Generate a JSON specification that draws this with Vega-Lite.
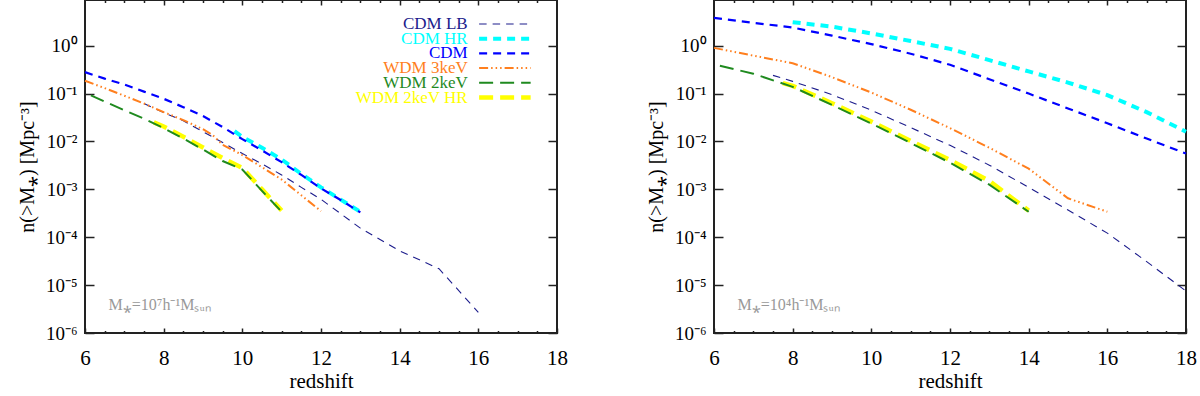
{
  "$schema": "https://vega.github.io/schema/vega-lite/v6.json",
  "padding": {"left": 16, "top": -2, "right": 0, "bottom": 0},
  "background": "white",
  "spacing": 76,
  "config": {
    "font": "Liberation Serif",
    "view": {"stroke": "#222222", "strokeWidth": 2},
    "axis": {"grid": false, "domain": false, "tickColor": "#222222", "tickWidth": 1.5, "labelFont": "Liberation Serif", "titleFont": "Liberation Serif", "labelColor": "#000000", "titleColor": "#000000", "titleFontWeight": "normal", "labelFlush": false, "labelOverlap": false}
  },
  "datasets": {
    "m7": [
      {"series": "CDM LB", "z": 7.5, "n": 0.062}, {"series": "CDM LB", "z": 8, "n": 0.04}, {"series": "CDM LB", "z": 8.5, "n": 0.027}, {"series": "CDM LB", "z": 9, "n": 0.016}, {"series": "CDM LB", "z": 9.5, "n": 0.0095}, {"series": "CDM LB", "z": 10, "n": 0.0056}, {"series": "CDM LB", "z": 10.5, "n": 0.0034}, {"series": "CDM LB", "z": 11, "n": 0.002}, {"series": "CDM LB", "z": 11.5, "n": 0.0011}, {"series": "CDM LB", "z": 12, "n": 0.00062}, {"series": "CDM LB", "z": 12.5, "n": 0.00031}, {"series": "CDM LB", "z": 13, "n": 0.000155}, {"series": "CDM LB", "z": 14, "n": 0.000052}, {"series": "CDM LB", "z": 15, "n": 0.000022}, {"series": "CDM LB", "z": 16, "n": 0.0000027},
      {"series": "CDM HR", "z": 9.8, "n": 0.0165}, {"series": "CDM HR", "z": 10, "n": 0.0125}, {"series": "CDM HR", "z": 10.5, "n": 0.0074}, {"series": "CDM HR", "z": 11, "n": 0.0042}, {"series": "CDM HR", "z": 11.5, "n": 0.0021}, {"series": "CDM HR", "z": 12, "n": 0.0011}, {"series": "CDM HR", "z": 12.5, "n": 0.00061}, {"series": "CDM HR", "z": 13, "n": 0.00034},
      {"series": "CDM", "z": 6, "n": 0.28}, {"series": "CDM", "z": 6.5, "n": 0.205}, {"series": "CDM", "z": 7, "n": 0.155}, {"series": "CDM", "z": 7.5, "n": 0.11}, {"series": "CDM", "z": 8, "n": 0.078}, {"series": "CDM", "z": 8.5, "n": 0.052}, {"series": "CDM", "z": 9, "n": 0.034}, {"series": "CDM", "z": 9.5, "n": 0.02}, {"series": "CDM", "z": 10, "n": 0.0112}, {"series": "CDM", "z": 10.5, "n": 0.0065}, {"series": "CDM", "z": 11, "n": 0.0037}, {"series": "CDM", "z": 11.5, "n": 0.002}, {"series": "CDM", "z": 12, "n": 0.00105}, {"series": "CDM", "z": 12.5, "n": 0.0006}, {"series": "CDM", "z": 13, "n": 0.00033},
      {"series": "WDM 3keV", "z": 6, "n": 0.185}, {"series": "WDM 3keV", "z": 6.5, "n": 0.13}, {"series": "WDM 3keV", "z": 7, "n": 0.09}, {"series": "WDM 3keV", "z": 7.5, "n": 0.062}, {"series": "WDM 3keV", "z": 8, "n": 0.041}, {"series": "WDM 3keV", "z": 8.5, "n": 0.028}, {"series": "WDM 3keV", "z": 9, "n": 0.018}, {"series": "WDM 3keV", "z": 9.25, "n": 0.0135}, {"series": "WDM 3keV", "z": 9.5, "n": 0.0085}, {"series": "WDM 3keV", "z": 10, "n": 0.0052}, {"series": "WDM 3keV", "z": 10.5, "n": 0.0029}, {"series": "WDM 3keV", "z": 11, "n": 0.0016}, {"series": "WDM 3keV", "z": 11.5, "n": 0.00075}, {"series": "WDM 3keV", "z": 12, "n": 0.00035},
      {"series": "WDM 2keV", "z": 6.15, "n": 0.092}, {"series": "WDM 2keV", "z": 6.5, "n": 0.068}, {"series": "WDM 2keV", "z": 7, "n": 0.045}, {"series": "WDM 2keV", "z": 7.5, "n": 0.03}, {"series": "WDM 2keV", "z": 8, "n": 0.019}, {"series": "WDM 2keV", "z": 8.5, "n": 0.0115}, {"series": "WDM 2keV", "z": 9, "n": 0.0068}, {"series": "WDM 2keV", "z": 9.5, "n": 0.0039}, {"series": "WDM 2keV", "z": 10, "n": 0.0026}, {"series": "WDM 2keV", "z": 10.5, "n": 0.00093}, {"series": "WDM 2keV", "z": 11, "n": 0.00034},
      {"series": "WDM 2keV HR", "z": 7.75, "n": 0.025}, {"series": "WDM 2keV HR", "z": 8, "n": 0.0205}, {"series": "WDM 2keV HR", "z": 8.5, "n": 0.0125}, {"series": "WDM 2keV HR", "z": 9, "n": 0.0075}, {"series": "WDM 2keV HR", "z": 9.5, "n": 0.0045}, {"series": "WDM 2keV HR", "z": 10, "n": 0.0028}, {"series": "WDM 2keV HR", "z": 10.5, "n": 0.001}, {"series": "WDM 2keV HR", "z": 11, "n": 0.00036}
    ],
    "m4": [
      {"series": "CDM LB", "z": 7.5, "n": 0.24}, {"series": "CDM LB", "z": 8, "n": 0.18}, {"series": "CDM LB", "z": 9, "n": 0.095}, {"series": "CDM LB", "z": 10, "n": 0.045}, {"series": "CDM LB", "z": 11, "n": 0.0195}, {"series": "CDM LB", "z": 12, "n": 0.0083}, {"series": "CDM LB", "z": 13, "n": 0.0032}, {"series": "CDM LB", "z": 14, "n": 0.0011}, {"series": "CDM LB", "z": 15, "n": 0.00037}, {"series": "CDM LB", "z": 16, "n": 0.000122}, {"series": "CDM LB", "z": 17, "n": 0.000031}, {"series": "CDM LB", "z": 18, "n": 0.0000075},
      {"series": "CDM HR", "z": 8, "n": 3.1}, {"series": "CDM HR", "z": 9, "n": 2.5}, {"series": "CDM HR", "z": 10, "n": 1.8}, {"series": "CDM HR", "z": 11, "n": 1.25}, {"series": "CDM HR", "z": 12, "n": 0.86}, {"series": "CDM HR", "z": 13, "n": 0.5}, {"series": "CDM HR", "z": 14, "n": 0.29}, {"series": "CDM HR", "z": 15, "n": 0.17}, {"series": "CDM HR", "z": 16, "n": 0.093}, {"series": "CDM HR", "z": 17, "n": 0.041}, {"series": "CDM HR", "z": 18, "n": 0.016},
      {"series": "CDM", "z": 6, "n": 3.8}, {"series": "CDM", "z": 7, "n": 3.0}, {"series": "CDM", "z": 8, "n": 2.4}, {"series": "CDM", "z": 9, "n": 1.62}, {"series": "CDM", "z": 10, "n": 1.08}, {"series": "CDM", "z": 11, "n": 0.68}, {"series": "CDM", "z": 12, "n": 0.4}, {"series": "CDM", "z": 13, "n": 0.2}, {"series": "CDM", "z": 14, "n": 0.1}, {"series": "CDM", "z": 15, "n": 0.049}, {"series": "CDM", "z": 16, "n": 0.024}, {"series": "CDM", "z": 17, "n": 0.0115}, {"series": "CDM", "z": 18, "n": 0.0056},
      {"series": "WDM 3keV", "z": 6, "n": 0.9}, {"series": "WDM 3keV", "z": 7, "n": 0.62}, {"series": "WDM 3keV", "z": 8, "n": 0.43}, {"series": "WDM 3keV", "z": 9, "n": 0.22}, {"series": "WDM 3keV", "z": 10, "n": 0.105}, {"series": "WDM 3keV", "z": 11, "n": 0.046}, {"series": "WDM 3keV", "z": 12, "n": 0.019}, {"series": "WDM 3keV", "z": 13, "n": 0.0074}, {"series": "WDM 3keV", "z": 14, "n": 0.0027}, {"series": "WDM 3keV", "z": 15, "n": 0.00065}, {"series": "WDM 3keV", "z": 16, "n": 0.00034},
      {"series": "WDM 2keV", "z": 6.15, "n": 0.38}, {"series": "WDM 2keV", "z": 7, "n": 0.26}, {"series": "WDM 2keV", "z": 8, "n": 0.138}, {"series": "WDM 2keV", "z": 9, "n": 0.058}, {"series": "WDM 2keV", "z": 10, "n": 0.0237}, {"series": "WDM 2keV", "z": 11, "n": 0.0093}, {"series": "WDM 2keV", "z": 12, "n": 0.0036}, {"series": "WDM 2keV", "z": 13, "n": 0.00125}, {"series": "WDM 2keV", "z": 14, "n": 0.00034},
      {"series": "WDM 2keV HR", "z": 7.75, "n": 0.165}, {"series": "WDM 2keV HR", "z": 8, "n": 0.145}, {"series": "WDM 2keV HR", "z": 9, "n": 0.063}, {"series": "WDM 2keV HR", "z": 10, "n": 0.026}, {"series": "WDM 2keV HR", "z": 11, "n": 0.0103}, {"series": "WDM 2keV HR", "z": 12, "n": 0.0041}, {"series": "WDM 2keV HR", "z": 13, "n": 0.0015}, {"series": "WDM 2keV HR", "z": 14, "n": 0.00036}
    ],
    "legendRows": [
      {"series": "CDM LB"}, {"series": "CDM HR"}, {"series": "CDM"}, {"series": "WDM 3keV"}, {"series": "WDM 2keV"}, {"series": "WDM 2keV HR"}
    ]
  },
  "hconcat": [
    {
      "width": 472, "height": 333,
      "data": {"name": "m7"},
      "resolve": {"scale": {"y": "independent"}, "axis": {"x": "independent", "y": "independent"}},
      "layer": [
        {
          "transform": [{"filter": "datum.series === 'CDM LB'"}],
          "mark": {"type": "line", "strokeWidth": 1.1},
          "encoding": {
            "x": {"field": "z", "type": "quantitative", "scale": {"domain": [6, 18], "nice": false, "zero": false}, "axis": {"orient": "bottom", "values": [6, 8, 10, 12, 14, 16, 18], "format": "d", "tickSize": -5, "labelPadding": 19, "labelFontSize": 21, "title": "redshift", "titleFontSize": 21, "titlePadding": 2}},
            "y": {"field": "n", "type": "quantitative", "scale": {"type": "log", "domain": [0.000001, 9], "nice": false}, "axis": {"orient": "left", "values": [0.000001, 0.00001, 0.0001, 0.001, 0.01, 0.1, 1], "tickSize": -9, "labelPadding": 17, "labelFontSize": 19, "labelExpr": "['10⁻⁶','10⁻⁵','10⁻⁴','10⁻³','10⁻²','10⁻¹','10⁰'][round(log(datum.value)/LN10)+6]", "title": "n(>M⁎)  [Mpc⁻³]", "titleFontSize": 20, "titlePadding": 8}},
            "color": {"field": "series", "type": "nominal", "scale": {"domain": ["CDM LB", "CDM HR", "CDM", "WDM 3keV", "WDM 2keV", "WDM 2keV HR"], "range": ["#1c1c8c", "#00ffff", "#0000ff", "#ff7f1e", "#1f8a1f", "#ffff00"]}, "legend": null},
            "strokeDash": {"field": "series", "type": "nominal", "scale": {"domain": ["CDM LB", "CDM HR", "CDM", "WDM 3keV", "WDM 2keV", "WDM 2keV HR"], "range": [[7.5, 6], [8, 6], [8, 6], [9, 3, 1.5, 3, 1.5, 3, 1.5, 3], [14, 7], [14, 7]]}, "legend": null}
          }
        },
        {
          "transform": [{"filter": "datum.series === 'CDM HR'"}],
          "mark": {"type": "line", "strokeWidth": 4},
          "encoding": {
            "x": {"field": "z", "type": "quantitative", "scale": {"domain": [6, 18], "nice": false, "zero": false}, "axis": {"orient": "bottom", "values": [6.5, 7, 7.5, 8.5, 9, 9.5, 10.5, 11, 11.5, 12.5, 13, 13.5, 14.5, 15, 15.5, 16.5, 17, 17.5], "tickSize": -2.5, "labels": false, "title": null}},
            "y": {"field": "n", "type": "quantitative", "scale": {"type": "log", "domain": [0.000001, 9], "nice": false}, "axis": {"orient": "right", "values": [0.000001, 0.00001, 0.0001, 0.001, 0.01, 0.1, 1], "tickSize": -9, "labels": false, "title": null}},
            "color": {"field": "series", "type": "nominal", "scale": {"domain": ["CDM LB", "CDM HR", "CDM", "WDM 3keV", "WDM 2keV", "WDM 2keV HR"], "range": ["#1c1c8c", "#00ffff", "#0000ff", "#ff7f1e", "#1f8a1f", "#ffff00"]}, "legend": null},
            "strokeDash": {"field": "series", "type": "nominal", "scale": {"domain": ["CDM LB", "CDM HR", "CDM", "WDM 3keV", "WDM 2keV", "WDM 2keV HR"], "range": [[7.5, 6], [8, 6], [8, 6], [9, 3, 1.5, 3, 1.5, 3, 1.5, 3], [14, 7], [14, 7]]}, "legend": null}
          }
        },
        {
          "transform": [{"filter": "datum.series === 'CDM'"}],
          "mark": {"type": "line", "strokeWidth": 2.2},
          "encoding": {
            "x": {"field": "z", "type": "quantitative", "scale": {"domain": [6, 18], "nice": false, "zero": false}, "axis": {"orient": "top", "values": [8, 10, 12, 14, 16], "tickSize": -5, "labels": false, "title": null}},
            "y": {"field": "n", "type": "quantitative", "scale": {"type": "log", "domain": [0.000001, 9], "nice": false}, "axis": null},
            "color": {"field": "series", "type": "nominal", "scale": {"domain": ["CDM LB", "CDM HR", "CDM", "WDM 3keV", "WDM 2keV", "WDM 2keV HR"], "range": ["#1c1c8c", "#00ffff", "#0000ff", "#ff7f1e", "#1f8a1f", "#ffff00"]}, "legend": null},
            "strokeDash": {"field": "series", "type": "nominal", "scale": {"domain": ["CDM LB", "CDM HR", "CDM", "WDM 3keV", "WDM 2keV", "WDM 2keV HR"], "range": [[7.5, 6], [8, 6], [8, 6], [9, 3, 1.5, 3, 1.5, 3, 1.5, 3], [14, 7], [14, 7]]}, "legend": null}
          }
        },
        {
          "transform": [{"filter": "datum.series === 'WDM 3keV'"}],
          "mark": {"type": "line", "strokeWidth": 2},
          "encoding": {
            "x": {"field": "z", "type": "quantitative", "scale": {"domain": [6, 18], "nice": false, "zero": false}, "axis": {"orient": "top", "values": [6.5, 7, 7.5, 8.5, 9, 9.5, 10.5, 11, 11.5, 12.5, 13, 13.5, 14.5, 15, 15.5, 16.5, 17, 17.5], "tickSize": -2.5, "labels": false, "title": null}},
            "y": {"field": "n", "type": "quantitative", "scale": {"type": "log", "domain": [0.000001, 9], "nice": false}, "axis": null},
            "color": {"field": "series", "type": "nominal", "scale": {"domain": ["CDM LB", "CDM HR", "CDM", "WDM 3keV", "WDM 2keV", "WDM 2keV HR"], "range": ["#1c1c8c", "#00ffff", "#0000ff", "#ff7f1e", "#1f8a1f", "#ffff00"]}, "legend": null},
            "strokeDash": {"field": "series", "type": "nominal", "scale": {"domain": ["CDM LB", "CDM HR", "CDM", "WDM 3keV", "WDM 2keV", "WDM 2keV HR"], "range": [[7.5, 6], [8, 6], [8, 6], [9, 3, 1.5, 3, 1.5, 3, 1.5, 3], [14, 7], [14, 7]]}, "legend": null}
          }
        },
        {
          "transform": [{"filter": "datum.series === 'WDM 2keV HR'"}],
          "mark": {"type": "line", "strokeWidth": 4.5},
          "encoding": {
            "x": {"field": "z", "type": "quantitative", "scale": {"domain": [6, 18], "nice": false, "zero": false}, "axis": null},
            "y": {"field": "n", "type": "quantitative", "scale": {"type": "log", "domain": [0.000001, 9], "nice": false}, "axis": null},
            "color": {"field": "series", "type": "nominal", "scale": {"domain": ["CDM LB", "CDM HR", "CDM", "WDM 3keV", "WDM 2keV", "WDM 2keV HR"], "range": ["#1c1c8c", "#00ffff", "#0000ff", "#ff7f1e", "#1f8a1f", "#ffff00"]}, "legend": null},
            "strokeDash": {"field": "series", "type": "nominal", "scale": {"domain": ["CDM LB", "CDM HR", "CDM", "WDM 3keV", "WDM 2keV", "WDM 2keV HR"], "range": [[7.5, 6], [8, 6], [8, 6], [9, 3, 1.5, 3, 1.5, 3, 1.5, 3], [14, 7], [14, 7]]}, "legend": null}
          }
        },
        {
          "transform": [{"filter": "datum.series === 'WDM 2keV'"}],
          "mark": {"type": "line", "strokeWidth": 2},
          "encoding": {
            "x": {"field": "z", "type": "quantitative", "scale": {"domain": [6, 18], "nice": false, "zero": false}, "axis": null},
            "y": {"field": "n", "type": "quantitative", "scale": {"type": "log", "domain": [0.000001, 9], "nice": false}, "axis": null},
            "color": {"field": "series", "type": "nominal", "scale": {"domain": ["CDM LB", "CDM HR", "CDM", "WDM 3keV", "WDM 2keV", "WDM 2keV HR"], "range": ["#1c1c8c", "#00ffff", "#0000ff", "#ff7f1e", "#1f8a1f", "#ffff00"]}, "legend": null},
            "strokeDash": {"field": "series", "type": "nominal", "scale": {"domain": ["CDM LB", "CDM HR", "CDM", "WDM 3keV", "WDM 2keV", "WDM 2keV HR"], "range": [[7.5, 6], [8, 6], [8, 6], [9, 3, 1.5, 3, 1.5, 3, 1.5, 3], [14, 7], [14, 7]]}, "legend": null}
          }
        },
        {
          "data": {"name": "legendRows"},
          "mark": {"type": "text", "align": "right", "baseline": "middle", "fontSize": 17, "font": "Liberation Serif"},
          "encoding": {
            "x": {"datum": 15.73, "type": "quantitative", "scale": {"domain": [6, 18], "nice": false, "zero": false}, "axis": null},
            "y": {"field": "series", "type": "nominal", "scale": {"type": "point", "domain": ["CDM LB", "CDM HR", "CDM", "WDM 3keV", "WDM 2keV", "WDM 2keV HR"], "range": [24, 97.5], "padding": 0}, "axis": null},
            "text": {"field": "series"},
            "color": {"field": "series", "type": "nominal", "scale": {"domain": ["CDM LB", "CDM HR", "CDM", "WDM 3keV", "WDM 2keV", "WDM 2keV HR"], "range": ["#1c1c8c", "#00ffff", "#0000ff", "#ff7f1e", "#1f8a1f", "#ffff00"]}, "legend": null}
          }
        },
        {
          "data": {"name": "legendRows"},
          "mark": {"type": "rule"},
          "encoding": {
            "x": {"datum": 16.02, "type": "quantitative", "scale": {"domain": [6, 18], "nice": false, "zero": false}, "axis": null},
            "x2": {"datum": 17.33},
            "y": {"field": "series", "type": "nominal", "scale": {"type": "point", "domain": ["CDM LB", "CDM HR", "CDM", "WDM 3keV", "WDM 2keV", "WDM 2keV HR"], "range": [24, 97.5], "padding": 0}, "axis": null},
            "color": {"field": "series", "type": "nominal", "scale": {"domain": ["CDM LB", "CDM HR", "CDM", "WDM 3keV", "WDM 2keV", "WDM 2keV HR"], "range": ["#1c1c8c", "#00ffff", "#0000ff", "#ff7f1e", "#1f8a1f", "#ffff00"]}, "legend": null},
            "strokeDash": {"field": "series", "type": "nominal", "scale": {"domain": ["CDM LB", "CDM HR", "CDM", "WDM 3keV", "WDM 2keV", "WDM 2keV HR"], "range": [[7.5, 6], [8, 6], [8, 6], [9, 3, 1.5, 3, 1.5, 3, 1.5, 3], [14, 7], [14, 7]]}, "legend": null},
            "strokeWidth": {"field": "series", "type": "nominal", "scale": {"type": "ordinal", "domain": ["CDM LB", "CDM HR", "CDM", "WDM 3keV", "WDM 2keV", "WDM 2keV HR"], "range": [1.2, 4, 2.2, 2, 2, 4.5]}, "legend": null}
          }
        },
        {
          "data": {"values": [{"label": "M⁎=10⁷h⁻¹Mₛᵤₙ"}]},
          "mark": {"type": "text", "align": "left", "baseline": "alphabetic", "fontSize": 16, "color": "#999999", "font": "Liberation Serif"},
          "encoding": {
            "x": {"datum": 6.6, "type": "quantitative", "scale": {"domain": [6, 18], "nice": false, "zero": false}, "axis": null},
            "y": {"datum": 0.000003, "type": "quantitative", "scale": {"type": "log", "domain": [0.000001, 9], "nice": false}, "axis": null},
            "text": {"field": "label"}
          }
        }
      ]
    },
    {
      "width": 472, "height": 333,
      "data": {"name": "m4"},
      "resolve": {"axis": {"x": "independent", "y": "independent"}},
      "layer": [
        {
          "transform": [{"filter": "datum.series === 'CDM LB'"}],
          "mark": {"type": "line", "strokeWidth": 1.1},
          "encoding": {
            "x": {"field": "z", "type": "quantitative", "scale": {"domain": [6, 18], "nice": false, "zero": false}, "axis": {"orient": "bottom", "values": [6, 8, 10, 12, 14, 16, 18], "format": "d", "tickSize": -5, "labelPadding": 19, "labelFontSize": 21, "title": "redshift", "titleFontSize": 21, "titlePadding": 2}},
            "y": {"field": "n", "type": "quantitative", "scale": {"type": "log", "domain": [0.000001, 9], "nice": false}, "axis": {"orient": "left", "values": [0.000001, 0.00001, 0.0001, 0.001, 0.01, 0.1, 1], "tickSize": -9, "labelPadding": 17, "labelFontSize": 19, "labelExpr": "['10⁻⁶','10⁻⁵','10⁻⁴','10⁻³','10⁻²','10⁻¹','10⁰'][round(log(datum.value)/LN10)+6]", "title": "n(>M⁎)  [Mpc⁻³]", "titleFontSize": 20, "titlePadding": 8}},
            "color": {"field": "series", "type": "nominal", "scale": {"domain": ["CDM LB", "CDM HR", "CDM", "WDM 3keV", "WDM 2keV", "WDM 2keV HR"], "range": ["#1c1c8c", "#00ffff", "#0000ff", "#ff7f1e", "#1f8a1f", "#ffff00"]}, "legend": null},
            "strokeDash": {"field": "series", "type": "nominal", "scale": {"domain": ["CDM LB", "CDM HR", "CDM", "WDM 3keV", "WDM 2keV", "WDM 2keV HR"], "range": [[7.5, 6], [8, 6], [8, 6], [9, 3, 1.5, 3, 1.5, 3, 1.5, 3], [14, 7], [14, 7]]}, "legend": null}
          }
        },
        {
          "transform": [{"filter": "datum.series === 'CDM HR'"}],
          "mark": {"type": "line", "strokeWidth": 4},
          "encoding": {
            "x": {"field": "z", "type": "quantitative", "scale": {"domain": [6, 18], "nice": false, "zero": false}, "axis": {"orient": "bottom", "values": [6.5, 7, 7.5, 8.5, 9, 9.5, 10.5, 11, 11.5, 12.5, 13, 13.5, 14.5, 15, 15.5, 16.5, 17, 17.5], "tickSize": -2.5, "labels": false, "title": null}},
            "y": {"field": "n", "type": "quantitative", "scale": {"type": "log", "domain": [0.000001, 9], "nice": false}, "axis": {"orient": "right", "values": [0.000001, 0.00001, 0.0001, 0.001, 0.01, 0.1, 1], "tickSize": -9, "labels": false, "title": null}},
            "color": {"field": "series", "type": "nominal", "scale": {"domain": ["CDM LB", "CDM HR", "CDM", "WDM 3keV", "WDM 2keV", "WDM 2keV HR"], "range": ["#1c1c8c", "#00ffff", "#0000ff", "#ff7f1e", "#1f8a1f", "#ffff00"]}, "legend": null},
            "strokeDash": {"field": "series", "type": "nominal", "scale": {"domain": ["CDM LB", "CDM HR", "CDM", "WDM 3keV", "WDM 2keV", "WDM 2keV HR"], "range": [[7.5, 6], [8, 6], [8, 6], [9, 3, 1.5, 3, 1.5, 3, 1.5, 3], [14, 7], [14, 7]]}, "legend": null}
          }
        },
        {
          "transform": [{"filter": "datum.series === 'CDM'"}],
          "mark": {"type": "line", "strokeWidth": 2.2},
          "encoding": {
            "x": {"field": "z", "type": "quantitative", "scale": {"domain": [6, 18], "nice": false, "zero": false}, "axis": {"orient": "top", "values": [8, 10, 12, 14, 16], "tickSize": -5, "labels": false, "title": null}},
            "y": {"field": "n", "type": "quantitative", "scale": {"type": "log", "domain": [0.000001, 9], "nice": false}, "axis": null},
            "color": {"field": "series", "type": "nominal", "scale": {"domain": ["CDM LB", "CDM HR", "CDM", "WDM 3keV", "WDM 2keV", "WDM 2keV HR"], "range": ["#1c1c8c", "#00ffff", "#0000ff", "#ff7f1e", "#1f8a1f", "#ffff00"]}, "legend": null},
            "strokeDash": {"field": "series", "type": "nominal", "scale": {"domain": ["CDM LB", "CDM HR", "CDM", "WDM 3keV", "WDM 2keV", "WDM 2keV HR"], "range": [[7.5, 6], [8, 6], [8, 6], [9, 3, 1.5, 3, 1.5, 3, 1.5, 3], [14, 7], [14, 7]]}, "legend": null}
          }
        },
        {
          "transform": [{"filter": "datum.series === 'WDM 3keV'"}],
          "mark": {"type": "line", "strokeWidth": 2},
          "encoding": {
            "x": {"field": "z", "type": "quantitative", "scale": {"domain": [6, 18], "nice": false, "zero": false}, "axis": {"orient": "top", "values": [6.5, 7, 7.5, 8.5, 9, 9.5, 10.5, 11, 11.5, 12.5, 13, 13.5, 14.5, 15, 15.5, 16.5, 17, 17.5], "tickSize": -2.5, "labels": false, "title": null}},
            "y": {"field": "n", "type": "quantitative", "scale": {"type": "log", "domain": [0.000001, 9], "nice": false}, "axis": null},
            "color": {"field": "series", "type": "nominal", "scale": {"domain": ["CDM LB", "CDM HR", "CDM", "WDM 3keV", "WDM 2keV", "WDM 2keV HR"], "range": ["#1c1c8c", "#00ffff", "#0000ff", "#ff7f1e", "#1f8a1f", "#ffff00"]}, "legend": null},
            "strokeDash": {"field": "series", "type": "nominal", "scale": {"domain": ["CDM LB", "CDM HR", "CDM", "WDM 3keV", "WDM 2keV", "WDM 2keV HR"], "range": [[7.5, 6], [8, 6], [8, 6], [9, 3, 1.5, 3, 1.5, 3, 1.5, 3], [14, 7], [14, 7]]}, "legend": null}
          }
        },
        {
          "transform": [{"filter": "datum.series === 'WDM 2keV HR'"}],
          "mark": {"type": "line", "strokeWidth": 4.5},
          "encoding": {
            "x": {"field": "z", "type": "quantitative", "scale": {"domain": [6, 18], "nice": false, "zero": false}, "axis": null},
            "y": {"field": "n", "type": "quantitative", "scale": {"type": "log", "domain": [0.000001, 9], "nice": false}, "axis": null},
            "color": {"field": "series", "type": "nominal", "scale": {"domain": ["CDM LB", "CDM HR", "CDM", "WDM 3keV", "WDM 2keV", "WDM 2keV HR"], "range": ["#1c1c8c", "#00ffff", "#0000ff", "#ff7f1e", "#1f8a1f", "#ffff00"]}, "legend": null},
            "strokeDash": {"field": "series", "type": "nominal", "scale": {"domain": ["CDM LB", "CDM HR", "CDM", "WDM 3keV", "WDM 2keV", "WDM 2keV HR"], "range": [[7.5, 6], [8, 6], [8, 6], [9, 3, 1.5, 3, 1.5, 3, 1.5, 3], [14, 7], [14, 7]]}, "legend": null}
          }
        },
        {
          "transform": [{"filter": "datum.series === 'WDM 2keV'"}],
          "mark": {"type": "line", "strokeWidth": 2},
          "encoding": {
            "x": {"field": "z", "type": "quantitative", "scale": {"domain": [6, 18], "nice": false, "zero": false}, "axis": null},
            "y": {"field": "n", "type": "quantitative", "scale": {"type": "log", "domain": [0.000001, 9], "nice": false}, "axis": null},
            "color": {"field": "series", "type": "nominal", "scale": {"domain": ["CDM LB", "CDM HR", "CDM", "WDM 3keV", "WDM 2keV", "WDM 2keV HR"], "range": ["#1c1c8c", "#00ffff", "#0000ff", "#ff7f1e", "#1f8a1f", "#ffff00"]}, "legend": null},
            "strokeDash": {"field": "series", "type": "nominal", "scale": {"domain": ["CDM LB", "CDM HR", "CDM", "WDM 3keV", "WDM 2keV", "WDM 2keV HR"], "range": [[7.5, 6], [8, 6], [8, 6], [9, 3, 1.5, 3, 1.5, 3, 1.5, 3], [14, 7], [14, 7]]}, "legend": null}
          }
        },
        {
          "data": {"values": [{"label": "M⁎=10⁴h⁻¹Mₛᵤₙ"}]},
          "mark": {"type": "text", "align": "left", "baseline": "alphabetic", "fontSize": 16, "color": "#999999", "font": "Liberation Serif"},
          "encoding": {
            "x": {"datum": 6.6, "type": "quantitative", "scale": {"domain": [6, 18], "nice": false, "zero": false}, "axis": null},
            "y": {"datum": 0.000003, "type": "quantitative", "scale": {"type": "log", "domain": [0.000001, 9], "nice": false}, "axis": null},
            "text": {"field": "label"}
          }
        }
      ]
    }
  ],
  "resolve": {"scale": {"color": "independent", "strokeDash": "independent"}}
}
